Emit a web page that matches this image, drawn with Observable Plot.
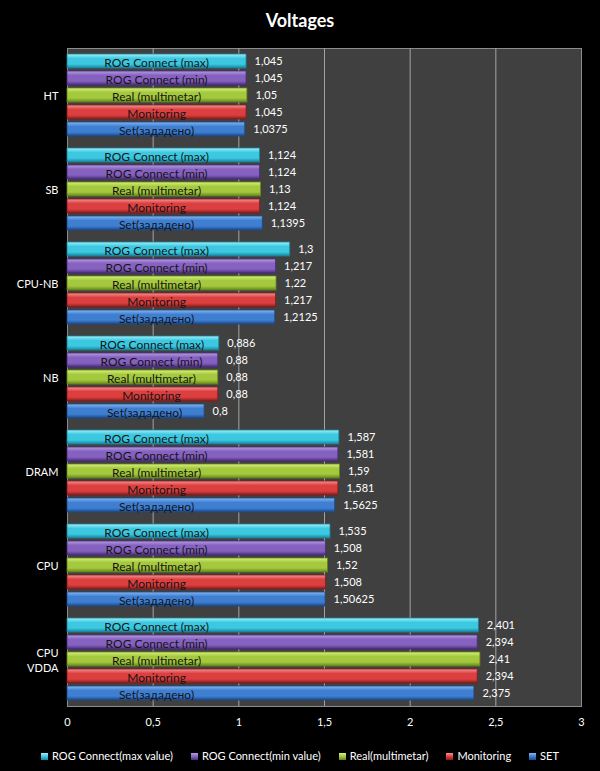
<!DOCTYPE html>
<html>
<head>
<meta charset="utf-8">
<script src="https://cdn.jsdelivr.net/npm/d3@7"></script>
<script src="https://cdn.jsdelivr.net/npm/@observablehq/plot@0.6"></script>
<style>
  html, body { margin: 0; padding: 0; background: #000; }
  body { width: 600px; height: 771px; overflow: hidden; font-family: Lato, "Liberation Sans", sans-serif; }
  #title { height: 40px; line-height: 40px; text-align: center; color: #fff; font-weight: bold; font-size: 18px; }
  #chart svg { display: block; }
  #legend { margin-top: 9px; height: 14px; line-height: 14px; display: flex; justify-content: center; color: #fff; font-size: 11px; }
  .item { display: flex; align-items: center; margin: 0 9px; white-space: nowrap; }
  .sw { width: 7px; height: 7px; margin-right: 4px; }
</style>
</head>
<body>
<div id="title">Voltages</div>
<div id="chart"></div>
<div id="legend"></div>
<script>
// ---- data ----
const groups = ["HT", "SB", "CPU-NB", "NB", "DRAM", "CPU", "CPU\nVDDA"];
const series = ["ROG Connect (max)", "ROG Connect (min)", "Real (multimetar)", "Monitoring", "Set(зададено)"];
const legendLabels = ["ROG Connect(max value)", "ROG Connect(min value)", "Real(multimetar)", "Monitoring", "SET"];
const rogMax     = [1.045, 1.124, 1.3,    0.886, 1.587,  1.535,   2.401];
const rogMin     = [1.045, 1.124, 1.217,  0.88,  1.581,  1.508,   2.394];
const real       = [1.05,  1.13,  1.22,   0.88,  1.59,   1.52,    2.41];
const monitoring = [1.045, 1.124, 1.217,  0.88,  1.581,  1.508,   2.394];
const setValues  = [1.0375, 1.1395, 1.2125, 0.8, 1.5625, 1.50625, 2.375];
const xTicks = [0, 0.5, 1, 1.5, 2, 2.5, 3];
const gridTicks = [0.5, 1, 1.5, 2, 2.5];

// ---- styles ----
const palette = [
  ["#a2eefa", "#3cc8e0", "#17849c"],
  ["#b69ce0", "#8561c0", "#4b2c80"],
  ["#d8f27c", "#a4c83e", "#66851a"],
  ["#f69292", "#dc3f3f", "#881b1b"],
  ["#88b6ef", "#3f7fd2", "#1c4a8a"]
];

const seriesValues = [rogMax, rogMin, real, monitoring, setValues];
const data = groups.flatMap((g, gi) => series.map((s, si) => ({group: g, series: s, si, value: seriesValues[si][gi]})));
const fmt = v => String(v).replace(".", ",");

const svg = Plot.plot({
  width: 600,
  height: 700,
  marginTop: 7,
  marginBottom: 34,
  marginLeft: 67,
  marginRight: 19,
  style: {background: "#000", color: "#fff", fontFamily: "Lato, 'Liberation Sans', sans-serif", fontSize: "11px"},
  x: {domain: [0, 3], ticks: xTicks, tickFormat: fmt, tickSize: 0, tickPadding: 12, label: null},
  y: {domain: series, axis: null, paddingInner: 0.2, paddingOuter: 0.3, align: 0.45},
  fy: {domain: groups, padding: 0, axis: null},
  marks: [
    Plot.frame({facet: "super", fill: "#404040", stroke: "#8c8c8c"}),
    Plot.axisFy({anchor: "left", tickSize: 0, tickPadding: 9, label: null, lineHeight: 1.4, fontSize: 11, fill: "#fff"}),
    Plot.ruleX(gridTicks, {stroke: "#a3a3a3", strokeWidth: 1}),
    Plot.barX(data, {fy: "group", y: "series", x: "value", fill: d => `url(#grad${d.si})`, stroke: d => palette[d.si][2], strokeWidth: 0.8}),
    Plot.text(data, {fy: "group", y: "series", x: d => Math.min(d.value / 2 + 0.05, 0.52), text: "series", fill: "#141414", dy: 2, fontSize: 12}),
    Plot.text(data, {fy: "group", y: "series", x: "value", text: d => fmt(d.value), dx: 8, textAnchor: "start", fill: "#fff", fontSize: 11})
  ]
});

// gradients for the bars
const NS = "http://www.w3.org/2000/svg";
const defs = document.createElementNS(NS, "defs");
palette.forEach((c, i) => {
  const lg = document.createElementNS(NS, "linearGradient");
  lg.setAttribute("id", "grad" + i);
  lg.setAttribute("x1", "0"); lg.setAttribute("y1", "0");
  lg.setAttribute("x2", "0"); lg.setAttribute("y2", "1");
  [[0, c[0]], [0.32, c[1]], [0.72, c[1]], [1, c[2]]].forEach(([o, col]) => {
    const st = document.createElementNS(NS, "stop");
    st.setAttribute("offset", o);
    st.setAttribute("stop-color", col);
    lg.appendChild(st);
  });
  defs.appendChild(lg);
});
svg.insertBefore(defs, svg.firstChild);
document.getElementById("chart").appendChild(svg);

// legend
const legend = document.getElementById("legend");
legendLabels.forEach((label, i) => {
  const item = document.createElement("div");
  item.className = "item";
  const sw = document.createElement("div");
  sw.className = "sw";
  sw.style.background = `linear-gradient(${palette[i][0]}, ${palette[i][1]} 50%, ${palette[i][2]})`;
  const t = document.createElement("span");
  t.textContent = label;
  item.appendChild(sw);
  item.appendChild(t);
  legend.appendChild(item);
});
</script>
</body>
</html>
